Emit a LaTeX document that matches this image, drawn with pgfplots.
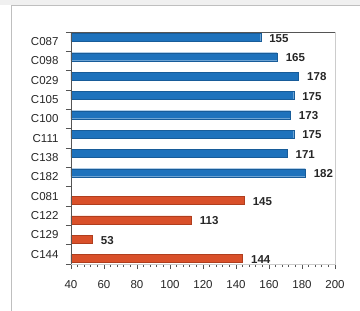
\documentclass[border=0pt]{standalone}
\usepackage{pgfplots}
\pgfplotsset{compat=1.18}
\usepackage{fontspec}
\setmainfont{Liberation Sans}
\definecolor{barblue}{HTML}{1E72BC}
\definecolor{barblueedge}{HTML}{185C99}
\definecolor{barorange}{HTML}{D9502A}
\definecolor{barorangeedge}{HTML}{B03E1E}
\definecolor{axdark}{HTML}{555555}
\definecolor{axlight}{HTML}{CCCCCC}
\begin{document}
\begin{tikzpicture}
\path[use as bounding box] (-71pt,-47pt) rectangle (289pt,264pt);
\fill[black!6] (-71pt,259pt) rectangle (289pt,264pt);
\draw[black!25] (-60pt,-47pt) -- (-60pt,259pt) -- (289pt,259pt);
\begin{axis}[
  at={(0pt,0pt)}, anchor=south west,
  scale only axis, width=264pt, height=232pt,
  xbar, bar width=8pt,
  xmin=40, xmax=200, ymin=-0.5, ymax=11.5,
  y dir=reverse,
  axis line style={draw=axlight},
  xtick={40,60,...,200},
  minor x tick num=4,
  ytick={-0.5,0.5,...,11.5},
  yticklabels={},
  extra y ticks={0,...,11},
  extra y tick labels={C087,C098,C029,C105,C100,C111,C138,C182,C081,C122,C129,C144},
  extra y tick style={tick style={draw=none}},
  tick align=outside,
  xtick pos=left, ytick pos=left,
  major tick length=5pt, minor tick length=3pt,
  tick style={draw=axdark, line width=0.6pt},
  /pgf/number format/assume math mode=true,
  ticklabel style={font=\fontsize{11.5}{13}\selectfont, text=black!85},
  yticklabel style={xshift=-4pt},
  xticklabel style={yshift=-8pt},
  nodes near coords,
  every node near coord/.append style={font=\bfseries\fontsize{11.5}{13}\selectfont, text=black!85, anchor=west, xshift=5pt, yshift=-1pt},
  clip=false,
]
\addplot[fill=barblue, draw=barblueedge, bar shift=4.3pt] coordinates {
 (155,0) (165,1) (178,2) (175,3) (173,4) (175,5) (171,6) (182,7)};
\addplot[fill=barorange, draw=barorangeedge, bar shift=-4.3pt] coordinates {
 (145,8) (113,9) (53,10) (144,11)};
\draw[axdark, line width=0.7pt] (rel axis cs:0,0) -- (rel axis cs:0,1) -- (rel axis cs:1,1);
\end{axis}
\end{tikzpicture}
\end{document}
